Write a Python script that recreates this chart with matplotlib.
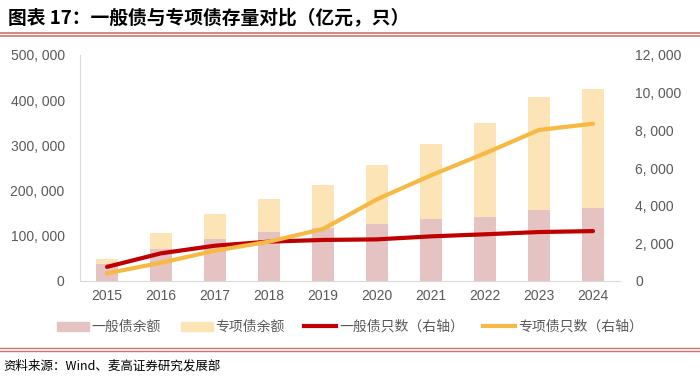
import matplotlib
matplotlib.use("Agg")
import matplotlib.pyplot as plt
from matplotlib.lines import Line2D
from matplotlib.patches import Patch
from matplotlib.ticker import FuncFormatter

plt.rcParams['font.family'] = ['Noto Sans CJK SC', 'DejaVu Sans']

years = ['2015', '2016', '2017', '2018', '2019', '2020', '2021', '2022', '2023', '2024']
general_balance = [38000, 71500, 93000, 109000, 116500, 126000, 136500, 142000, 158000, 161000]
special_balance = [10700, 35500, 56000, 72000, 95500, 130000, 167500, 208000, 249000, 263000]
general_count = [750, 1470, 1875, 2090, 2180, 2210, 2370, 2480, 2600, 2650]
special_count = [410, 970, 1610, 2090, 2760, 4340, 5610, 6780, 8020, 8350]

c_pink = '#E6C3C3'
c_yellow = '#FCE4B6'
c_red = '#C00000'
c_orange = '#F6B944'
c_tick = '#595959'
num_font = ['Liberation Sans', 'DejaVu Sans']

fig = plt.figure(figsize=(7, 3.84), dpi=100)
ax = fig.add_axes([80/700, 1-281/384, 540/700, 226/384])
x = list(range(len(years)))
ax.bar(x, general_balance, width=0.41, color=c_pink, zorder=2)
ax.bar(x, special_balance, width=0.41, bottom=general_balance, color=c_yellow, zorder=2)
ax.set_xlim(-0.5, len(years)-0.5)
ax.set_ylim(0, 500000)
ax.set_yticks(range(0, 500001, 100000))
ax.yaxis.set_major_formatter(FuncFormatter(lambda v, p: f'{int(v):,}'.replace(',', ', ')))
ax.set_xticks(x)
ax.set_xticklabels(years)
for s in ['top', 'right']:
    ax.spines[s].set_visible(False)
ax.spines['left'].set_color('#D9D9D9')
ax.spines['bottom'].set_color('#D9D9D9')
ax.tick_params(length=0, colors=c_tick, labelsize=10)
ax.tick_params(axis='y', pad=11)
ax.tick_params(axis='x', pad=6)
for t in ax.get_xticklabels() + ax.get_yticklabels():
    t.set_fontfamily(num_font)

ax2 = ax.twinx()
ax2.plot(x, general_count, color=c_red, lw=3, solid_capstyle='round', zorder=3)
ax2.plot(x, special_count, color=c_orange, lw=3, solid_capstyle='round', zorder=3)
ax2.set_ylim(0, 12000)
ax2.set_yticks(range(0, 12001, 2000))
ax2.yaxis.set_major_formatter(FuncFormatter(lambda v, p: f'{int(v):,}'.replace(',', ', ')))
for s in ['top', 'right', 'left', 'bottom']:
    ax2.spines[s].set_visible(False)
ax2.tick_params(length=0, colors=c_tick, labelsize=10, pad=11)
for t in ax2.get_yticklabels():
    t.set_fontfamily(num_font)

# Title
fig.text(8/700, 1-18/384, '图表 17：一般债与专项债存量对比（亿元，只）', fontsize=13.5,
         fontweight='bold', va='center', ha='left', color='black')
for yy in [33, 36]:
    fig.add_artist(Line2D([0, 1], [1-yy/384, 1-yy/384], color='#C0504D', lw=1.2, alpha=0.8))
for yy in [348, 351]:
    fig.add_artist(Line2D([0, 1], [1-yy/384, 1-yy/384], color='#C0504D', lw=1.0, alpha=0.8))

handles = [Patch(color=c_pink), Patch(color=c_yellow),
           Line2D([], [], color=c_red, lw=3), Line2D([], [], color=c_orange, lw=3)]
labels = ['一般债余额', '专项债余额', '一般债只数（右轴）', '专项债只数（右轴）']
fig.legend(handles, labels, loc='center', bbox_to_anchor=(0.5, 1-327/384), ncol=4,
           frameon=False, fontsize=10, handlelength=2.3, handleheight=0.6,
           columnspacing=1.4, handletextpad=0.2, labelcolor=c_tick)

fig.text(3/700, 1-366/384, '资料来源：Wind、麦高证券研究发展部', fontsize=9, va='center', ha='left')

fig.savefig('out.png', dpi=100)
